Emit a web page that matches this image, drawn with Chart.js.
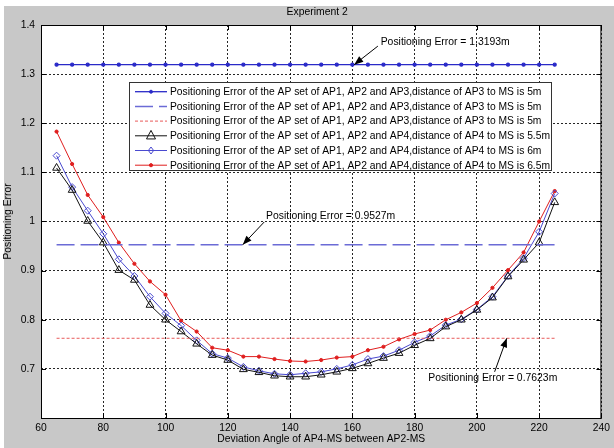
<!DOCTYPE html>
<html>
<head>
<meta charset="utf-8">
<script src="https://cdn.jsdelivr.net/npm/chart.js@4.4.0/dist/chart.umd.min.js"></script>
<style>
  html, body { margin: 0; padding: 0; background: #c8c8c8; }
  #wrap { width: 614px; height: 448px; }
</style>
</head>
<body>
<div id="wrap"><canvas id="myChart" width="614" height="448"></canvas></div>
<script>
// deviation angle of AP4-MS (degrees)
const angles = [65, 70, 75, 80, 85, 90, 95, 100, 105, 110, 115, 120, 125, 130, 135, 140, 145,
  150, 155, 160, 165, 170, 175, 180, 185, 190, 195, 200, 205, 210, 215, 220, 225];

// AP1, AP2, AP3 sets (flat)
const errAP3Dots = [1.3193, 1.3193, 1.3193, 1.3193, 1.3193, 1.3193, 1.3193, 1.3193, 1.3193, 1.3193, 1.3193,
  1.3193, 1.3193, 1.3193, 1.3193, 1.3193, 1.3193, 1.3193, 1.3193, 1.3193, 1.3193, 1.3193,
  1.3193, 1.3193, 1.3193, 1.3193, 1.3193, 1.3193, 1.3193, 1.3193, 1.3193, 1.3193, 1.3193];
const flatAngles = [65, 225];
const errAP3Dash = [0.9527, 0.9527];
const errAP3Dotted = [0.7623, 0.7623];

// AP1, AP2, AP4 sets
const errAP4_55 = [1.109, 1.064, 1.001, 0.957, 0.901, 0.881, 0.830, 0.800, 0.776, 0.751, 0.728,
  0.718, 0.699, 0.693, 0.686, 0.684, 0.684, 0.688, 0.694, 0.701, 0.711, 0.722,
  0.732, 0.748, 0.762, 0.786, 0.800, 0.820, 0.845, 0.888, 0.922, 0.957, 1.039];
const errAP4_6 = [1.134, 1.070, 1.022, 0.975, 0.923, 0.889, 0.847, 0.813, 0.788, 0.758, 0.731,
  0.722, 0.704, 0.696, 0.690, 0.688, 0.691, 0.694, 0.700, 0.708, 0.720, 0.726,
  0.738, 0.754, 0.767, 0.789, 0.801, 0.821, 0.847, 0.889, 0.925, 0.979, 1.057];
const errAP4_65 = [1.183, 1.117, 1.054, 1.009, 0.957, 0.914, 0.878, 0.851, 0.798, 0.776, 0.743,
  0.738, 0.725, 0.725, 0.720, 0.716, 0.715, 0.718, 0.723, 0.725, 0.738, 0.745,
  0.760, 0.771, 0.779, 0.800, 0.815, 0.834, 0.865, 0.901, 0.937, 1.000, 1.062];

const xTicks = [60, 80, 100, 120, 140, 160, 180, 200, 220, 240];
const yTicks = [0.6, 0.7, 0.8, 0.9, 1.0, 1.1, 1.2, 1.3, 1.4];

const seriesLabels = [
  "Positioning Error of the AP set of AP1, AP2 and AP3,distance of AP3 to MS is 5m",
  "Positioning Error of the AP set of AP1, AP2 and AP3,distance of AP3 to MS is 5m",
  "Positioning Error of the AP set of AP1, AP2 and AP3,distance of AP3 to MS is 5m",
  "Positioning Error of the AP set of AP1, AP2 and AP4,distance of AP4 to MS is 5.5m",
  "Positioning Error of the AP set of AP1, AP2 and AP4,distance of AP4 to MS is 6m",
  "Positioning Error of the AP set of AP1, AP2 and AP4,distance of AP4 to MS is 6.5m"
];

// text callouts: [text, arrow tip (x,y), arrow tail (x,y), text anchor (x,y), align]
const notes = [
  ["Positioning Error = 1.3193m", [160.6, 1.3193], [168.2, 1.357], [169.1, 1.366], "left"],
  ["Positioning Error = 0.9527m", [124.8, 0.9527], [131.7, 0.999], [132.3, 1.010], "left"],
  ["Positioning Error = 0.7623m", [209.6, 0.7623], [205.7, 0.694], [205.1, 0.681], "center"]
];

const FONT = '"Liberation Sans", Arial, sans-serif';

function pts(xs, ys) {
  return xs.map((x, i) => ({ x: x, y: ys[i] }));
}

function drawMarker(ctx, style, r, x, y, color, filled) {
  ctx.beginPath();
  if (style === "circle") {
    ctx.arc(x, y, r, 0, Math.PI * 2);
  } else if (style === "triangle") {
    ctx.moveTo(x, y - r * 1.2);
    ctx.lineTo(x + r, y + r * 0.7);
    ctx.lineTo(x - r, y + r * 0.7);
    ctx.closePath();
  } else if (style === "rectRot") {
    ctx.moveTo(x, y - r);
    ctx.lineTo(x + r * 0.75, y);
    ctx.lineTo(x, y + r);
    ctx.lineTo(x - r * 0.75, y);
    ctx.closePath();
  } else {
    return;
  }
  if (filled) { ctx.fillStyle = color; ctx.fill(); }
  ctx.strokeStyle = color;
  ctx.lineWidth = 1;
  ctx.stroke();
}

const paperPlugin = {
  id: "paper",
  beforeDraw(chart) {
    const { ctx, chartArea: a } = chart;
    ctx.save();
    ctx.fillStyle = "#c8c8c8";
    ctx.fillRect(0, 0, chart.width, chart.height);
    ctx.fillStyle = "#ffffff";
    ctx.fillRect(0, 0, chart.width, 6);
    ctx.fillRect(0, 0, 4, chart.height);
    ctx.fillRect(a.left, a.top, a.right - a.left, a.bottom - a.top);
    ctx.restore();
  },
  afterDraw(chart) {
    const { ctx, chartArea: a } = chart;
    const xs = chart.scales.x, ys = chart.scales.y;
    ctx.save();

    // axes box + inward ticks
    ctx.strokeStyle = "#000";
    ctx.lineWidth = 1;
    ctx.strokeRect(a.left + 0.5, a.top + 0.5, a.right - a.left - 1, a.bottom - a.top);
    ctx.beginPath();
    xTicks.forEach((v) => {
      const px = Math.round(xs.getPixelForValue(v)) + 0.5;
      ctx.moveTo(px, a.bottom); ctx.lineTo(px, a.bottom - 5);
      ctx.moveTo(px, a.top); ctx.lineTo(px, a.top + 5);
    });
    yTicks.forEach((v) => {
      const py = Math.round(ys.getPixelForValue(v)) + 0.5;
      ctx.moveTo(a.left, py); ctx.lineTo(a.left + 5, py);
      ctx.moveTo(a.right, py); ctx.lineTo(a.right - 5, py);
    });
    ctx.stroke();

    // title
    ctx.fillStyle = "#000";
    ctx.font = "10.4px " + FONT;
    ctx.textAlign = "center";
    ctx.textBaseline = "middle";
    ctx.fillText("Experiment 2", (a.left + a.right) / 2 - 4, 12);

    // callouts
    notes.forEach(([text, tip, tail, at, align]) => {
      const tx = xs.getPixelForValue(tip[0]), ty = ys.getPixelForValue(tip[1]);
      const sx = xs.getPixelForValue(tail[0]), sy = ys.getPixelForValue(tail[1]);
      ctx.strokeStyle = "#000";
      ctx.fillStyle = "#000";
      ctx.lineWidth = 1;
      ctx.beginPath();
      ctx.moveTo(sx, sy);
      ctx.lineTo(tx, ty);
      ctx.stroke();
      const ang = Math.atan2(ty - sy, tx - sx);
      const L = 9, W = 3.5;
      ctx.beginPath();
      ctx.moveTo(tx, ty);
      ctx.lineTo(tx - L * Math.cos(ang) + W * Math.sin(ang), ty - L * Math.sin(ang) - W * Math.cos(ang));
      ctx.lineTo(tx - L * Math.cos(ang) - W * Math.sin(ang), ty - L * Math.sin(ang) + W * Math.cos(ang));
      ctx.closePath();
      ctx.fill();
      ctx.textAlign = align;
      ctx.textBaseline = "middle";
      ctx.fillText(text, xs.getPixelForValue(at[0]), ys.getPixelForValue(at[1]));
    });

    // legend box
    const bx = 129, by = 82, bw = 422, bh = 88;
    ctx.fillStyle = "#fff";
    ctx.fillRect(bx, by, bw, bh);
    ctx.strokeStyle = "#333";
    ctx.strokeRect(bx + 0.5, by + 0.5, bw, bh);
    chart.data.datasets.forEach((ds, i) => {
      const cy = by + 9.7 + i * 14.7;
      ctx.strokeStyle = ds.borderColor;
      ctx.lineWidth = ds.borderWidth;
      ctx.setLineDash(ds.borderDash || []);
      ctx.beginPath();
      ctx.moveTo(135, cy);
      ctx.lineTo(167, cy);
      ctx.stroke();
      ctx.setLineDash([]);
      if (ds.pointRadius > 0) {
        drawMarker(ctx, ds.pointStyle, ds.pointRadius, 151, cy, ds.pointBorderColor, ds.pointBackgroundColor !== "transparent");
      }
      ctx.fillStyle = "#000";
      ctx.font = "10.3px " + FONT;
      ctx.textAlign = "left";
      ctx.textBaseline = "middle";
      ctx.fillText(seriesLabels[i], 170, cy + 0.5);
    });
    ctx.restore();
  }
};

const gridStyle = {
  color: "rgba(0,0,0,0.85)",
  lineWidth: 1,
  drawTicks: false,
};

new Chart(document.getElementById("myChart"), {
  type: "line",
  data: {
    datasets: [
      {
        label: seriesLabels[0],
        data: pts(angles, errAP3Dots),
        borderColor: "#2a2ac8",
        borderWidth: 1.3,
        pointStyle: "circle",
        pointRadius: 1.5,
        pointBorderColor: "#2a2ac8",
        pointBackgroundColor: "#2a2ac8",
      },
      {
        label: seriesLabels[1],
        data: pts(flatAngles, errAP3Dash),
        borderColor: "#6b6bd6",
        borderWidth: 1.5,
        borderDash: [18, 6],
        pointRadius: 0,
      },
      {
        label: seriesLabels[2],
        data: pts(flatAngles, errAP3Dotted),
        borderColor: "#e85a5a",
        borderWidth: 1,
        borderDash: [3, 2],
        pointRadius: 0,
      },
      {
        label: seriesLabels[3],
        data: pts(angles, errAP4_55),
        borderColor: "#111111",
        borderWidth: 1,
        pointStyle: "triangle",
        pointRadius: 4.5,
        pointBorderColor: "#111111",
        pointBackgroundColor: "transparent",
      },
      {
        label: seriesLabels[4],
        data: pts(angles, errAP4_6),
        borderColor: "#4a4ad0",
        borderWidth: 1,
        pointStyle: "rectRot",
        pointRadius: 3.5,
        pointBorderColor: "#4a4ad0",
        pointBackgroundColor: "transparent",
      },
      {
        label: seriesLabels[5],
        data: pts(angles, errAP4_65),
        borderColor: "#e01e1e",
        borderWidth: 1,
        pointStyle: "circle",
        pointRadius: 1.6,
        pointBorderColor: "#e01e1e",
        pointBackgroundColor: "#e01e1e",
      },
    ],
  },
  options: {
    responsive: false,
    animation: false,
    devicePixelRatio: 1,
    layout: { padding: { top: 25, right: 11, left: 0, bottom: 0 } },
    plugins: {
      legend: { display: false },
      tooltip: { enabled: false },
      title: { display: false },
    },
    elements: { line: { tension: 0 } },
    scales: {
      x: {
        type: "linear",
        min: 60,
        max: 240,
        afterBuildTicks: (s) => { s.ticks = xTicks.map((v) => ({ value: v })); },
        afterFit: (s) => { s.height = 30; },
        grid: gridStyle,
        border: { display: false, dash: [2, 2] },
        ticks: {
          padding: 4,
          color: "#000",
          font: { family: FONT, size: 10.3 },
          maxRotation: 0,
        },
        title: {
          display: true,
          text: "Deviation Angle of AP4-MS between AP2-MS",
          color: "#000",
          font: { family: FONT, size: 10.3 },
          padding: { top: 0, bottom: 3 },
        },
      },
      y: {
        type: "linear",
        min: 0.6,
        max: 1.4,
        afterBuildTicks: (s) => { s.ticks = yTicks.map((v) => ({ value: v })); },
        afterFit: (s) => { s.width = 41; },
        grid: gridStyle,
        border: { display: false, dash: [2, 2] },
        ticks: {
          padding: 6,
          color: "#000",
          font: { family: FONT, size: 10.3 },
          callback: (v) => (Math.abs(v - 0.6) < 1e-9 ? "" : (Math.abs(v - 1) < 1e-9 ? "1" : v.toFixed(1))),
        },
        title: {
          display: true,
          text: "Positioning Error",
          color: "#000",
          font: { family: FONT, size: 10.3 },
          padding: { top: 2, bottom: 0 },
        },
      },
    },
  },
  plugins: [paperPlugin],
});
</script>
</body>
</html>
